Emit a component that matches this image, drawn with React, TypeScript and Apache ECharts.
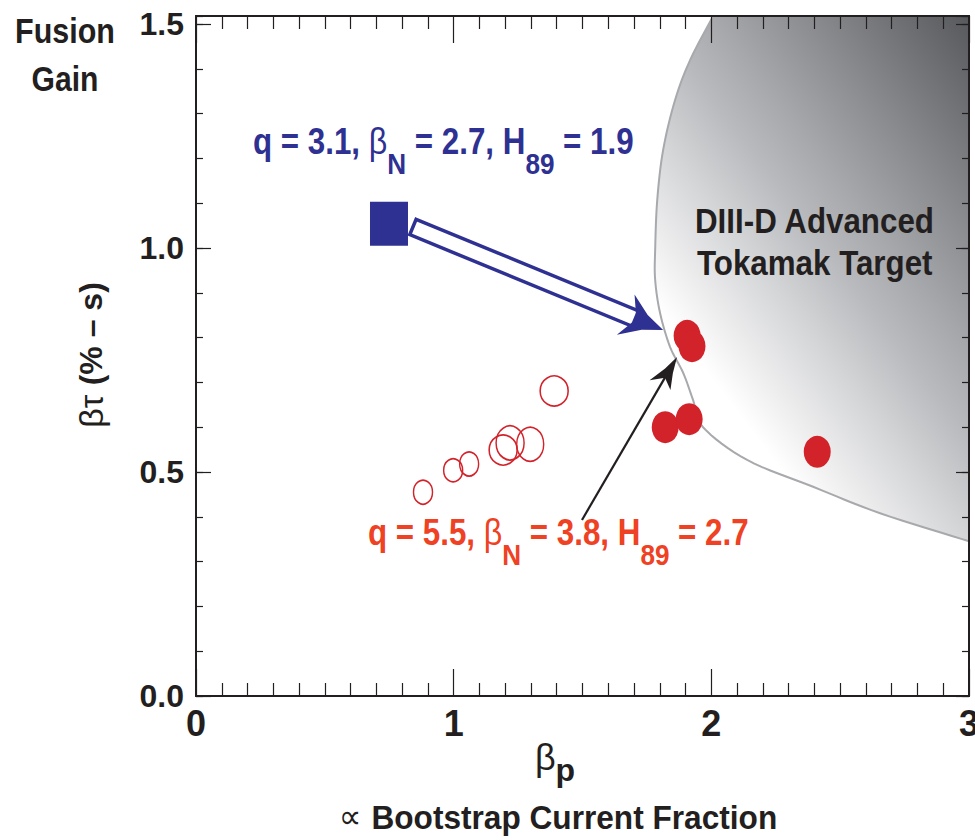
import React, { useEffect, useRef } from "react";
import * as echarts from "echarts";

// ---- data ----
const xTickLabels = ["0", "1", "2", "3"];
const yTickLabels = ["0.0", "0.5", "1.0", "1.5"];

// open circles
const openBetaP = [0.881, 0.998, 1.06, 1.192, 1.219, 1.297, 1.39];
const openBetaTau = [0.455, 0.504, 0.518, 0.549, 0.565, 0.562, 0.681];

// filled circles (q = 5.5 discharges)
const filledBetaP = [1.906, 1.925, 1.821, 1.914, 2.411];
const filledBetaTau = [0.804, 0.781, 0.6, 0.618, 0.545];

// filled square (q = 3.1 discharge)
const squareBetaP = [0.749];
const squareBetaTau = [1.054];

// boundary of the "DIII-D Advanced Tokamak Target" region
const targetBetaP = [2.007, 1.918, 1.859, 1.813, 1.79, 1.782, 1.782, 1.801, 1.84, 1.891, 1.929, 1.968, 2.139, 2.395, 2.655, 2.997];
const targetBetaTau = [1.518, 1.42, 1.33, 1.219, 1.107, 0.996, 0.929, 0.855, 0.779, 0.721, 0.661, 0.6, 0.527, 0.467, 0.408, 0.346];

// annotation arrows (data coordinates)
const blueArrowFrom = [0.842, 1.047];
const blueArrowTo = [1.813, 0.817];
const blackArrowFrom = [1.498, 0.393];
const blackArrowTo = [1.867, 0.757];

const X_MIN = 0;
const X_MAX = 3;
const Y_MIN = 0;
const Y_MAX = 1.518;

// ---- styles ----
const INK = "#231f20";
const BLUE = "#2e3192";
const RED_DOT = "#d2232a";
const RED_TEXT = "#ef4123";
const NARROW = "'Liberation Sans Narrow', 'Arial Narrow', 'Liberation Sans', Arial, sans-serif";
const SANS = "'Liberation Sans', Arial, Helvetica, sans-serif";

const openSizes = [[19, 24], [19, 23], [19, 24], [28, 30], [28, 34], [27, 34], [28, 30]];

// gradient anchors of the shaded region (light end -> dark end), data coords
const shadeLight = [1.957, 0.742];
const shadeDark = [3.265, 1.314];

function add(a: number[], b: number[]) { return [a[0] + b[0], a[1] + b[1]]; }
function mul(a: number[], k: number) { return [a[0] * k, a[1] * k]; }
function pt(T: number[], u: number[], n: number[], au: number, an: number) {
  return add(add(T, mul(u, au)), mul(n, an));
}

// Catmull-Rom rendering of a pixel polyline, for a smooth drawn edge
function smoothPath(p: number[][], steps = 8) {
  const out: number[][] = [];
  const n = p.length;
  for (let i = 0; i < n - 1; i++) {
    const p0 = p[Math.max(i - 1, 0)];
    const p1 = p[i];
    const p2 = p[i + 1];
    const p3 = p[Math.min(i + 2, n - 1)];
    for (let s = 0; s < steps; s++) {
      const t = s / steps;
      const t2 = t * t;
      const t3 = t2 * t;
      const f = (a: number, b: number, c: number, d: number) =>
        0.5 * (2 * b + (-a + c) * t + (2 * a - 5 * b + 4 * c - d) * t2 + (-a + 3 * b - 3 * c + d) * t3);
      out.push([f(p0[0], p1[0], p2[0], p3[0]), f(p0[1], p1[1], p2[1], p3[1])]);
    }
  }
  out.push(p[n - 1]);
  return out;
}

export default function App() {
  const ref = useRef<HTMLDivElement>(null);

  useEffect(() => {
    document.body.style.margin = "0";
    if (!ref.current) return;
    const chart = echarts.init(ref.current, null, { renderer: "svg" });

    const xAxisBase = (position: string, showLabel: boolean) => ({
      type: "value",
      position,
      min: X_MIN,
      max: X_MAX,
      interval: 1,
      z: 10,
      axisLine: { show: true, onZero: false, lineStyle: { color: INK, width: 2 } },
      axisTick: { show: true, inside: true, length: 27, lineStyle: { color: INK, width: 1.2 } },
      minorTick: { show: true, splitNumber: 10, length: 13, lineStyle: { color: INK, width: 1.2 } },
      splitLine: { show: false },
      minorSplitLine: { show: false },
      axisLabel: {
        show: showLabel,
        margin: 9,
        fontSize: 36,
        fontWeight: "bold",
        fontFamily: NARROW,
        color: INK,
        formatter: (v: number) => xTickLabels[Math.round(v)] ?? "",
      },
    });

    const yAxisBase = (position: string, interval: number, len: number, showLabel: boolean) => ({
      type: "value",
      position,
      min: Y_MIN,
      max: Y_MAX,
      interval,
      z: 10,
      axisLine: { show: true, onZero: false, lineStyle: { color: INK, width: 2 } },
      axisTick: { show: true, inside: true, length: len, lineStyle: { color: INK, width: 1.2 } },
      splitLine: { show: false },
      axisLabel: {
        show: showLabel,
        interval: 0,
        showMaxLabel: false,
        margin: 12,
        fontSize: 32,
        fontWeight: "bold",
        fontFamily: NARROW,
        color: INK,
        formatter: (v: number) => {
          const i = Math.round(v / 0.5);
          return Math.abs(v - i * 0.5) < 1e-6 && i < yTickLabels.length ? yTickLabels[i] : "";
        },
      },
    });

    const targetSeries = {
      type: "custom",
      coordinateSystem: "cartesian2d",
      xAxisIndex: 0,
      yAxisIndex: 0,
      z: 1,
      silent: true,
      data: [[targetBetaP[0], targetBetaTau[0]]],
      renderItem: (_params: any, api: any) => {
        const raw = targetBetaP.map((x, i) => api.coord([x, targetBetaTau[i]]));
        const curve = smoothPath(raw);
        const corner = api.coord([X_MAX, Y_MAX]);
        const g0 = api.coord(shadeLight);
        const g1 = api.coord(shadeDark);
        return {
          type: "group",
          children: [
            {
              type: "polygon",
              shape: { points: [...curve, corner] },
              style: {
                fill: {
                  type: "linear",
                  global: true,
                  x: g0[0], y: g0[1], x2: g1[0], y2: g1[1],
                  colorStops: [
                    { offset: 0, color: "#ffffff" },
                    { offset: 0.1, color: "#eeeeef" },
                    { offset: 0.25, color: "#d4d5d7" },
                    { offset: 0.4, color: "#b9babd" },
                    { offset: 0.52, color: "#a6a8ab" },
                    { offset: 0.7, color: "#898b8e" },
                    { offset: 1, color: "#58595d" },
                  ],
                },
                stroke: "none",
              },
            },
            {
              type: "polyline",
              shape: { points: curve },
              style: { fill: "none", stroke: "#a7a9ac", lineWidth: 2 },
            },
          ],
        };
      },
    };

    const arrowSeries = {
      type: "custom",
      coordinateSystem: "cartesian2d",
      xAxisIndex: 0,
      yAxisIndex: 0,
      z: 6,
      silent: true,
      encode: { x: [0, 2], y: [1, 3] },
      data: [
        [...blueArrowFrom, ...blueArrowTo, 0],
        [...blackArrowFrom, ...blackArrowTo, 1],
      ],
      renderItem: (_params: any, api: any) => {
        const S = api.coord([api.value(0), api.value(1)]);
        const T = api.coord([api.value(2), api.value(3)]);
        const kind = api.value(4);
        const dx = T[0] - S[0];
        const dy = T[1] - S[1];
        const len = Math.sqrt(dx * dx + dy * dy);
        const u = [dx / len, dy / len];
        const n = [-u[1], u[0]];
        if (kind === 0) {
          const hw = 8.3;
          const shaftEnd = -30;
          const shaft = [
            pt(S, u, n, 0, -hw),
            pt(T, u, n, shaftEnd, -hw),
            pt(T, u, n, shaftEnd, hw),
            pt(S, u, n, 0, hw),
          ];
          const head = [
            T,
            pt(T, u, n, -20, -8),
            pt(T, u, n, -40, -22),
            pt(T, u, n, -29, 0),
            pt(T, u, n, -41, 22),
            pt(T, u, n, -20, 8),
          ];
          return {
            type: "group",
            children: [
              { type: "polygon", shape: { points: shaft }, style: { fill: "#ffffff", stroke: BLUE, lineWidth: 3.5 } },
              { type: "polygon", shape: { points: head }, style: { fill: BLUE, stroke: "none" } },
            ],
          };
        }
        const lineEnd = pt(T, u, n, -20, 0);
        const head = [
          T,
          pt(T, u, n, -16, -4.5),
          pt(T, u, n, -34, -12),
          pt(T, u, n, -24, 0),
          pt(T, u, n, -32, 11),
          pt(T, u, n, -16, 4.5),
        ];
        return {
          type: "group",
          children: [
            { type: "line", shape: { x1: S[0], y1: S[1], x2: lineEnd[0], y2: lineEnd[1] }, style: { stroke: INK, lineWidth: 2.2 } },
            { type: "polygon", shape: { points: head }, style: { fill: INK, stroke: "none" } },
          ],
        };
      },
    };

    const subTok = (size: number, color: string) => ({
      fontSize: size, fontWeight: "bold", fontFamily: SANS, fill: color,
      lineHeight: 30, padding: [28, 0, 16, 0],
    });
    const mainTok = (size: number, color: string) => ({
      fontSize: size, fontWeight: "bold", fontFamily: SANS, fill: color,
      lineHeight: 40, padding: [0, 0, 34, 0],
    });
    const betaTok = (size: number, color: string) => ({
      fontSize: size, fontWeight: "normal", fontFamily: SANS, fill: color,
      lineHeight: 40, padding: [0, 0, 34, 0],
    });

    const paramLabel = (text: string, x: number, yTop: number, color: string) => ({
      type: "text",
      x,
      y: yTop,
      scaleX: 0.87,
      z: 100,
      style: {
        text,
        align: "left",
        verticalAlign: "top",
        rich: { m: mainTok(36, color), b: betaTok(37, color), s: subTok(30, color) },
      },
    });

    const plainText = (text: string, x: number, y: number, size: number, align: string, sx: number) => ({
      type: "text",
      x,
      y,
      scaleX: sx,
      z: 100,
      style: {
        text,
        align,
        verticalAlign: "middle",
        fontSize: size,
        fontWeight: "bold",
        fontFamily: SANS,
        fill: INK,
      },
    });

    const option: any = {
      animation: false,
      grid: { left: 196, right: 6, top: 16, bottom: 144, containLabel: false, outerBoundsMode: "none" },
      xAxis: [xAxisBase("bottom", true), xAxisBase("top", false)],
      yAxis: [
        yAxisBase("left", 0.5, 15, true),
        yAxisBase("left", 0.1, 7, false),
        yAxisBase("right", 0.5, 13, false),
        yAxisBase("right", 0.1, 7, false),
      ],
      series: [
        targetSeries,
        {
          type: "scatter",
          z: 4,
          symbol: "circle",
          symbolSize: (_v: any, p: any) => openSizes[p.dataIndex],
          itemStyle: { color: "rgba(0,0,0,0)", borderColor: RED_DOT, borderWidth: 1.6, opacity: 1 },
          data: openBetaP.map((x, i) => [x, openBetaTau[i]]),
        },
        {
          type: "scatter",
          z: 4,
          symbol: "circle",
          symbolSize: [27, 32],
          itemStyle: { color: RED_DOT, opacity: 1 },
          data: filledBetaP.map((x, i) => [x, filledBetaTau[i]]),
        },
        {
          type: "scatter",
          z: 4,
          symbol: "rect",
          symbolSize: [38, 44],
          itemStyle: { color: BLUE, opacity: 1 },
          data: squareBetaP.map((x, i) => [x, squareBetaTau[i]]),
        },
        arrowSeries,
      ],
      graphic: [
        plainText("Fusion", 65, 31, 35, "center", 0.87),
        plainText("Gain", 65, 79, 35, "center", 0.86),
        {
          type: "text",
          x: 91,
          y: 355,
          rotation: Math.PI / 2,
          z: 100,
          style: {
            text: "{g|βτ }{b|(% – s)}",
            align: "center",
            verticalAlign: "middle",
            rich: {
              g: { fontSize: 34, fontWeight: "normal", fontFamily: SANS, fill: INK, lineHeight: 40 },
              b: { fontSize: 32, fontWeight: "bold", fontFamily: SANS, fill: INK, lineHeight: 40 },
            },
          },
        },
        {
          type: "text",
          x: 555,
          y: 743,
          z: 100,
          style: {
            text: "{g|β}{p|p}",
            align: "center",
            verticalAlign: "top",
            rich: {
              g: { fontSize: 36, fontWeight: "normal", fontFamily: SANS, fill: INK, lineHeight: 40, padding: [0, 0, 12, 0] },
              p: { fontSize: 32, fontWeight: "bold", fontFamily: SANS, fill: INK, lineHeight: 34, padding: [16, 0, 2, 0] },
            },
          },
        },
        {
          type: "text",
          x: 558,
          y: 817,
          scaleX: 0.93,
          z: 100,
          style: {
            text: "{s|∝ }{t|Bootstrap Current Fraction}",
            align: "center",
            verticalAlign: "middle",
            rich: {
              s: { fontSize: 34, fontWeight: "normal", fontFamily: "'DejaVu Sans', sans-serif", fill: INK, lineHeight: 40 },
              t: { fontSize: 34, fontWeight: "bold", fontFamily: SANS, fill: INK, lineHeight: 40 },
            },
          },
        },
        paramLabel("{m|q = 3.1, }{b|β}{s|N}{m| = 2.7, H}{s|89}{m| = 1.9}", 253, 138, BLUE),
        paramLabel("{m|q = 5.5, }{b|β}{s|N}{m| = 3.8, H}{s|89}{m| = 2.7}", 368, 529, RED_TEXT),
        plainText("DIII-D Advanced", 695, 221, 35, "left", 0.895),
        plainText("Tokamak Target", 697, 263, 35, "left", 0.895),
      ],
    };

    chart.setOption(option);
    return () => chart.dispose();
  }, []);

  return <div ref={ref} style={{ width: 975, height: 840 }} />;
}
